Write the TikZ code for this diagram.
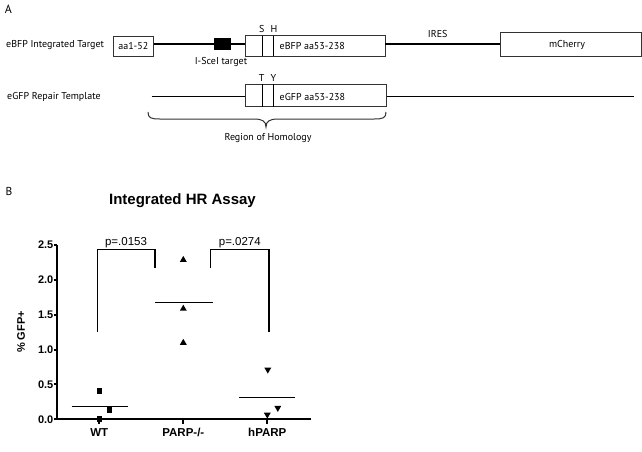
\documentclass[tikz,border=0pt]{standalone}
\usepackage{fontspec}
\setmainfont{Liberation Sans}
\newfontfamily\afont{PT Sans}
\usetikzlibrary{shapes.geometric}
\begin{document}
\begin{tikzpicture}[x=1pt,y=-1pt,
  atext/.style={font=\afont\fontsize{10}{12}\selectfont, inner sep=0pt},
  gbox/.style={draw=black!80, line width=0.8pt, inner sep=0pt, fill=white},
  dna/.style={line width=1.1pt},
  siteline/.style={line width=1.3pt},
  axisline/.style={line width=2pt, line join=miter},
  brk/.style={line width=1.5pt},
  meanl/.style={line width=1.5pt},
  ticklab/.style={font=\bfseries\fontsize{11}{13}\selectfont, inner sep=0pt},
  catlab/.style={font=\bfseries\fontsize{11.5}{13}\selectfont, inner sep=0pt},
  plab/.style={font=\fontsize{11.5}{13}\selectfont, inner sep=0pt},
  sq/.style={fill=black, inner sep=0pt, minimum size=5.5pt},
  tri/.style={regular polygon, regular polygon sides=3, fill=black, inner sep=0pt, minimum size=8pt},
  dtri/.style={tri, shape border rotate=180}
]
\useasboundingbox (0,0) rectangle (642,451);

% ---------------- Panel A ----------------
\node[font=\afont\fontsize{12}{14}\selectfont, inner sep=0pt] (labA) at (8.5,9) {A};

\coordinate (r1) at (0,44);
\coordinate (r2) at (0,96.7);

\node[atext, anchor=west] (t1) at (6,45.5) {eBFP Integrated Target};
\node[atext, anchor=west] (t2) at (7,97) {eGFP Repair Template};

\node[gbox, minimum width=40pt, minimum height=20pt, font=\afont\fontsize{10}{12}\selectfont] (aa) at (133.3,46) {aa1-52};
\node[gbox, minimum width=140pt, minimum height=20.3pt] (ebfp) at (315,45.8) {};
\node[gbox, minimum width=141.5pt, minimum height=23.7pt] (mch) at (570.8,44.2) {};
\node[gbox, minimum width=141.7pt, minimum height=22.4pt] (egfp) at (315.8,95.5) {};

\draw[dna] (aa.east |- r1) -- (ebfp.west |- r1);
\draw[dna] (ebfp.east |- r1) -- (mch.west |- r1);
\node[fill=black, inner sep=0pt, minimum width=16.7pt, minimum height=11.7pt] (scei) at (222.7,44.2) {};

\node[atext, anchor=west] (ebfptxt) at (279.5,46) {eBFP aa53-238};
\node[atext] (mchtxt) at (567,44.5) {mCherry};
\node[atext] (ires) at (437.7,34) {IRES};
\node[atext] (sceitxt) at (221,61.5) {I-SceI target};
\node[atext] (S) at (261.7,28.5) {S};
\node[atext] (H) at (274,28.5) {H};
\draw[siteline] (262.3,35.7) -- (262.3,56);
\draw[siteline] (273.3,35.7) -- (273.3,56);

\coordinate (g0) at (151.7,96.7);
\coordinate (g1) at (634.3,96.7);
\draw[dna] (g0) -- (egfp.west |- g0);
\draw[dna] (egfp.east |- g1) -- (g1);
\node[atext, anchor=west] (egfptxt) at (279.5,96.5) {eGFP aa53-238};
\node[atext] (T) at (261.7,78.3) {T};
\node[atext] (Y) at (273.5,78.3) {Y};
\draw[siteline] (262.3,84.3) -- (262.3,106.7);
\draw[siteline] (273.3,84.3) -- (273.3,106.7);

\draw[line width=1pt, black!80] (148,112) .. controls (148,118) and (151,119) .. (160,119) -- (254,119)
  .. controls (262,119) and (266,121) .. (266,127)
  .. controls (266,121) and (270,119) .. (278,119) -- (374,119)
  .. controls (383,119) and (386,118) .. (386,112);
\node[atext] (roh) at (268,138) {Region of Homology};

% ---------------- Panel B ----------------
\node[font=\afont\fontsize{11.5}{14}\selectfont, inner sep=0pt] (labB) at (9,191) {B};
\node[font=\bfseries\fontsize{15}{18}\selectfont, inner sep=0pt] (title) at (182.5,201) {Integrated HR Assay};

\draw[axisline] (57,245) -- (57,419.3) -- (311,419.3);
\foreach \v/\y in {0.0/419.3,0.5/384.44,1.0/349.58,1.5/314.72,2.0/279.86,2.5/245.0}{
  \draw[line width=2pt] (53.5,\y) -- (57,\y);
  \node[ticklab, anchor=east] (yl\v) at (53.5,\y) {\v};
}
\node[font=\bfseries\fontsize{11}{13}\selectfont, inner sep=0pt, rotate=90] (ylab) at (21,332) {\% GFP+};

\foreach \x/\n/\t in {99.3/wt/{WT},183.3/ko/{PARP-/-},267.3/hp/{hPARP}}{
  \draw[line width=2pt] (\x,419.3) -- (\x,424);
  \node[catlab] (c\n) at (\x,432.5) {\t};
}

% brackets
\draw[brk] (97.3,331.7) -- (97.3,249.3) -- (155,249.3) -- (155,268);
\draw[brk] (210.7,268) -- (210.7,249.3) -- (269,249.3) -- (269,331.7);
\node[plab, anchor=base] (p1) at (126,245.5) {p=.0153};
\node[plab, anchor=base] (p2) at (239.8,245.5) {p=.0274};

% means
\draw[meanl] (71.7,406.7) -- (128.3,406.7);
\draw[meanl] (155,302.7) -- (213,302.7);
\draw[meanl] (239.3,397.7) -- (295,397.7);

% data
\node[sq] (w1) at (99.3,390.9) {};
\node[sq] (w2) at (109.5,410.2) {};
\node[sq] (w3) at (99.3,419) {};
\node[tri] (k1) at (183.3,259.9) {};
\node[tri] (k2) at (183.3,308.7) {};
\node[tri] (k3) at (183.3,342.8) {};
\node[dtri] (h1) at (267.8,369.6) {};
\node[dtri] (h2) at (277.8,407.9) {};
\node[dtri] (h3) at (267.3,414.6) {};
\end{tikzpicture}
\end{document}
